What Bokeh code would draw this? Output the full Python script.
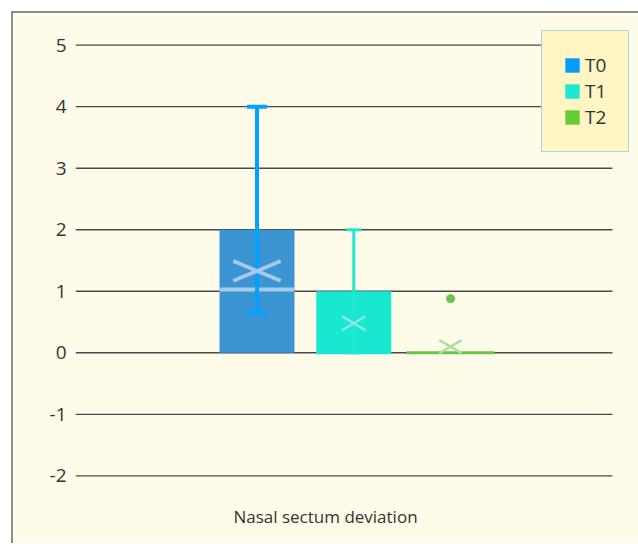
from bokeh.plotting import figure
from bokeh.models import Range1d, FixedTicker, Legend, LegendItem, ColumnDataSource, Label
from bokeh.embed import file_html
from bokeh.resources import INLINE

# ---- data ----
groups = ["T0", "T1", "T2"]
positions = [1, 2, 3]
q1 = [0.0, 0.0, 0.0]
q3 = [2.0, 1.0, 0.0]
medians = [1.03, 0.0, 0.0]
means = [1.33, 0.48, 0.1]
lower_whisker = [0.64, 0.0, 0.0]
upper_whisker = [4.0, 2.0, 0.0]
outlier_group = [3]
outlier_values = [0.88]
y_ticks = [-2, -1, 0, 1, 2, 3, 4, 5]
y_tick_labels = ["-2", "-1", "0", "1", "2", "3", "4", "5"]
x_label = "Nasal sectum deviation"

# ---- styles ----
BG = "#FFFBE9"
box_colors = ["#3B95D2", "#19E8D1", "#19E8D1"]
legend_colors = ["#009CFF", "#1DE9D2", "#66CC33"]
whisker_colors = ["#00A3FF", "#1DE9D0", "#6CC24A"]
median_colors = ["#A9CBEB", "#19E8D1", "#6CC24A"]
mean_colors = ["#A9C8EA", "#8EEBDD", "#B3DCA0"]
box_width = 0.775
median_half = [box_width / 2, box_width / 2, 0.455]
median_lw = [4, 3, 3]
whisker_lw = [4, 3, 3]
cap_half = [0.104, 0.078, 0.0]
x_half = [0.245, 0.12, 0.115]
x_vhalf = [0.16, 0.114, 0.105]
x_lw = [3.8, 2.2, 2.5]
X_START, X_END, GRID_END = -0.876, 4.943, 4.674
Y_START, Y_END = -3.099, 5.4
LABEL_X, LABEL_Y = 1.708, -2.66

p = figure(
    output_backend="svg", toolbar_location=None,
    frame_width=563, frame_height=523,
    x_range=Range1d(X_START, X_END), y_range=Range1d(Y_START, Y_END),
    min_border_left=62, min_border_right=0, min_border_top=7, min_border_bottom=0,
    background_fill_color=BG, border_fill_color=BG,
)
p.styles = {
    "margin-left": "11px", "margin-top": "11px",
    "border-left": "2px solid #8c8c8c", "border-top": "2px solid #8c8c8c",
}
p.outline_line_color = None

# axes
p.yaxis.ticker = FixedTicker(ticks=y_ticks)
p.yaxis.major_label_overrides = {t: s for t, s in zip(y_ticks, y_tick_labels)}
p.yaxis.axis_line_color = None
p.yaxis.major_tick_line_color = None
p.yaxis.minor_tick_line_color = None
p.yaxis.major_label_standoff = 3
p.yaxis.major_label_text_font = "Open Sans"
p.yaxis.major_label_text_font_size = "19px"
p.yaxis.major_label_text_color = "#333333"
p.xaxis.visible = False

p.xgrid.grid_line_color = None
p.ygrid.grid_line_color = None
# horizontal grid lines (stop short of the right edge, as in the reference)
p.segment(x0=[X_START] * len(y_ticks), y0=y_ticks, x1=[GRID_END] * len(y_ticks), y1=y_ticks,
          line_color="#4a4a4a", line_width=1.4)

# category label under the plot
p.add_layout(Label(x=LABEL_X, y=LABEL_Y, text=x_label, text_align="center",
                   text_baseline="middle", text_font="Open Sans", text_font_size="17px",
                   text_color="#333333"))

# boxes
src = ColumnDataSource(dict(
    x=positions, q1=q1, q3=q3, med=medians, mean=means, lo=lower_whisker, hi=upper_whisker,
    box_color=box_colors, wcol=whisker_colors, mcol=median_colors, xcol=mean_colors,
    mh0=[x - h for x, h in zip(positions, median_half)],
    mh1=[x + h for x, h in zip(positions, median_half)],
    c0=[x - h for x, h in zip(positions, cap_half)],
    c1=[x + h for x, h in zip(positions, cap_half)],
    xa0=[x - h for x, h in zip(positions, x_half)],
    xa1=[x + h for x, h in zip(positions, x_half)],
    ya0=[m - h for m, h in zip(means, x_vhalf)],
    ya1=[m + h for m, h in zip(means, x_vhalf)],
    mlw=median_lw, wlw=whisker_lw, xlw=x_lw,
))
p.vbar(x="x", bottom="q1", top="q3", width=box_width, fill_color="box_color",
       line_color=None, source=src)
p.segment(x0="mh0", y0="med", x1="mh1", y1="med", line_color="mcol",
          line_width="mlw", source=src)
p.segment(x0="x", y0="lo", x1="x", y1="hi", line_color="wcol", line_width="wlw", source=src)
p.segment(x0="c0", y0="hi", x1="c1", y1="hi", line_color="wcol", line_width="wlw", source=src)
p.segment(x0="c0", y0="lo", x1="c1", y1="lo", line_color="wcol", line_width="wlw", source=src)
p.segment(x0="xa0", y0="ya0", x1="xa1", y1="ya1", line_color="xcol", line_width="xlw", source=src)
p.segment(x0="xa0", y0="ya1", x1="xa1", y1="ya0", line_color="xcol", line_width="xlw", source=src)
p.scatter(x=outlier_group, y=outlier_values, size=8, color="#6CC24A")

# legend
items = []
for g, c in zip(groups, legend_colors):
    r = p.vbar(x=[float("nan")], top=[float("nan")], width=0.5, fill_color=c, line_color=None)
    items.append(LegendItem(label=g, renderers=[r]))
legend = Legend(
    items=items, location=(466, 391),
    padding=21, spacing=0, glyph_width=18, glyph_height=18,
    label_height=20, label_width=22, label_standoff=4,
    label_text_font="Open Sans", label_text_font_size="19px", label_text_color="#333333",
    background_fill_color="#FFF6C4", background_fill_alpha=1.0,
    border_line_color="#4DB8F0", border_line_width=1.5,
    margin=0,
)
p.add_layout(legend)

open("out.html", "w").write(file_html(p, INLINE))
